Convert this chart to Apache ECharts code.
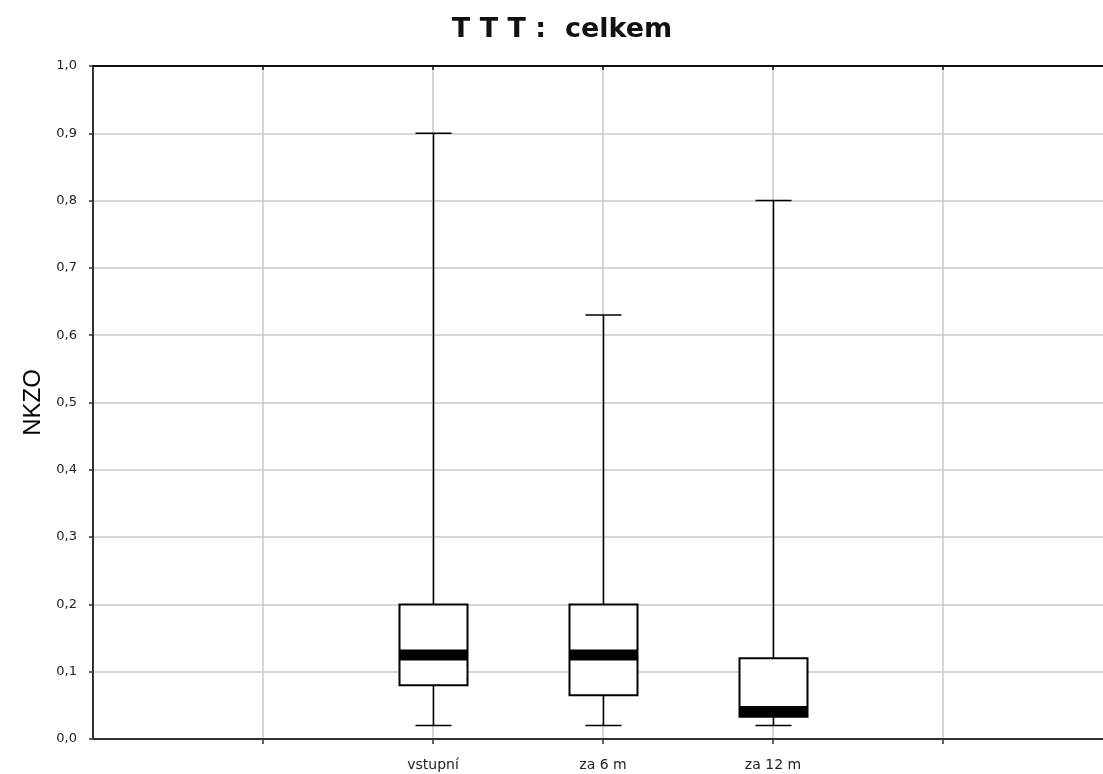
<!DOCTYPE html>
<html>
<head>
<meta charset="utf-8">
<script src="https://cdn.jsdelivr.net/npm/echarts@6/dist/echarts.min.js"></script>
<style>
  html, body { margin: 0; padding: 0; background: #fff; }
  #chart { width: 1103px; height: 774px; }
</style>
</head>
<body>
<div id="chart"></div>
<script>
// Category slots along the x axis (boxes sit in slots 2..4)
const categories = ['', '', 'vstupní', 'za 6 m', 'za 12 m', '', ''];
const groupSlots = [2, 3, 4];

// Box plot statistics for each group
const whiskerLow  = [0.02, 0.02, 0.02];
const quartile1   = [0.08, 0.065, 0.033];
const medians     = [0.125, 0.125, 0.041];
const quartile3   = [0.2, 0.2, 0.12];
const whiskerHigh = [0.9, 0.63, 0.8];

// Y axis ticks
const yTicks = [0, 0.1, 0.2, 0.3, 0.4, 0.5, 0.6, 0.7, 0.8, 0.9, 1.0];

const boxData = groupSlots.map((slot, i) => [
  slot, whiskerLow[i], quartile1[i], medians[i], quartile3[i], whiskerHigh[i]
]);

const BOX_W = 68, CAP_W = 36, MEDIAN_H = 11;

function renderBox(params, api) {
  const x = api.value(0);
  const pLow = api.coord([x, api.value(1)]);
  const pQ1 = api.coord([x, api.value(2)]);
  const pMed = api.coord([x, api.value(3)]);
  const pQ3 = api.coord([x, api.value(4)]);
  const pHigh = api.coord([x, api.value(5)]);
  const cx = Math.round(pLow[0]) + 0.5;
  const line = { stroke: '#000', lineWidth: 1.5 };
  return {
    type: 'group',
    children: [
      { type: 'line', shape: { x1: cx, y1: pHigh[1], x2: cx, y2: pQ3[1] }, style: line },
      { type: 'line', shape: { x1: cx, y1: pQ1[1], x2: cx, y2: pLow[1] }, style: line },
      { type: 'line', shape: { x1: cx - CAP_W / 2, y1: pHigh[1], x2: cx + CAP_W / 2, y2: pHigh[1] }, style: line },
      { type: 'line', shape: { x1: cx - CAP_W / 2, y1: pLow[1], x2: cx + CAP_W / 2, y2: pLow[1] }, style: line },
      { type: 'rect', shape: { x: cx - BOX_W / 2, y: pQ3[1], width: BOX_W, height: pQ1[1] - pQ3[1] },
        style: { fill: '#fff', stroke: '#000', lineWidth: 2 } },
      { type: 'rect', shape: { x: cx - BOX_W / 2, y: pMed[1] - MEDIAN_H / 2, width: BOX_W, height: MEDIAN_H },
        style: { fill: '#000' } }
    ]
  };
}

const chart = echarts.init(document.getElementById('chart'), null, { renderer: 'canvas' });
chart.setOption({
  animation: false,
  backgroundColor: '#fff',
  title: {
    text: 'T T T :  celkem',
    left: 557, top: 11, textAlign: 'center',
    textStyle: { fontFamily: 'DejaVu Sans', fontWeight: 'bold', fontSize: 27, color: '#111' }
  },
  // plot area runs on past the right edge of the page
  grid: { left: 93, top: 66, width: 1020, bottom: 35, outerBoundsMode: 'none', containLabel: false },
  xAxis: [
    {
      type: 'category', data: categories, boundaryGap: false, position: 'bottom',
      axisLine: { lineStyle: { color: '#333', width: 2 } },
      axisTick: { show: true, length: 5, lineStyle: { color: '#333', width: 1.5 },
        interval: (idx) => idx > 0 && idx < categories.length - 1 },
      axisLabel: { interval: 0, margin: 19, color: '#222', fontFamily: 'DejaVu Sans', fontSize: 14 },
      splitLine: { show: true, interval: (idx) => idx > 0, lineStyle: { color: '#c8c8c8', width: 1.5 } }
    },
    {
      type: 'category', data: categories, boundaryGap: false, position: 'top',
      axisLine: { lineStyle: { color: '#111', width: 2 } },
      axisTick: { show: true, inside: true, length: 4, lineStyle: { color: '#111', width: 1.5 },
        interval: (idx) => idx > 0 && idx < categories.length - 1 },
      axisLabel: { show: false },
      splitLine: { show: false }
    }
  ],
  yAxis: {
    type: 'value', min: 0, max: 1, interval: 0.1,
    name: 'NKZO', nameLocation: 'middle', nameRotate: 90, nameGap: 42,
    nameTextStyle: { fontFamily: 'Liberation Sans', fontSize: 24, color: '#000' },
    axisLine: { show: true, lineStyle: { color: '#333', width: 2 } },
    axisTick: { show: true, length: 4, lineStyle: { color: '#333', width: 1.5 } },
    axisLabel: {
      margin: 16, color: '#222', fontFamily: 'DejaVu Sans', fontSize: 13,
      formatter: (v) => {
        const t = yTicks.find((k) => Math.abs(k - v) < 1e-9);
        return (t !== undefined ? t : v).toFixed(1).replace('.', ',');
      }
    },
    splitLine: { show: true, lineStyle: { color: '#c8c8c8', width: 1.5 } }
  },
  series: [{
    type: 'custom',
    renderItem: renderBox,
    encode: { x: 0, y: [1, 2, 3, 4, 5] },
    data: boxData,
    z: 5
  }]
});
</script>
</body>
</html>
